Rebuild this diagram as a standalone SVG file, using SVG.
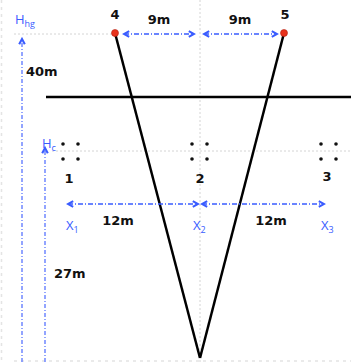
<svg xmlns="http://www.w3.org/2000/svg" width="351" height="362" viewBox="0 0 351 362">
<style>
.guide{stroke:#d4d4d4;stroke-width:1;stroke-dasharray:2 2;fill:none}
.faint{stroke:#e4e4e4;stroke-width:1.5;stroke-dasharray:3 4;fill:none}
.dim{stroke:#3a5cff;stroke-width:1.3;stroke-dasharray:5 2 1 2;fill:none}
.vdim{stroke:#6f86ff;stroke-width:1.5;stroke-dasharray:4 2 1 2;fill:none}
.beam{stroke:#000;stroke-width:2.5;fill:none}
.lbl{font-family:"DejaVu Sans",Verdana,sans-serif;font-weight:bold;font-size:13px;fill:#111}
.blue{font-family:"Open Sans","Liberation Sans",Arial,sans-serif;font-size:13px;fill:#3a5cff}
.sub{font-size:9px}
.dot{fill:#111}
</style>
<defs>
<marker id="ah" viewBox="0 0 10 10" refX="8" refY="5" markerWidth="8" markerHeight="8" markerUnits="userSpaceOnUse" orient="auto-start-reverse">
<path d="M1.5,1.5 L8,5 L1.5,8.5" fill="none" stroke="#3a5cff" stroke-width="2.6"/>
</marker>
</defs>
<rect width="351" height="362" fill="#fff"/>
<g id="guides">
<line class="faint" x1="1.5" y1="0" x2="1.5" y2="362"/>
<line class="faint" x1="14" y1="361" x2="351" y2="361"/>
<line class="guide" x1="14" y1="34" x2="113" y2="34"/>
<line class="guide" x1="200" y1="0" x2="200" y2="362"/>
<line class="guide" x1="52" y1="151" x2="351" y2="151"/>
</g>
<g id="connectors">
<line class="beam" x1="46" y1="97" x2="351" y2="97"/>
<line class="beam" x1="115" y1="33" x2="200" y2="358"/>
<line class="beam" x1="284" y1="33" x2="200" y2="358"/>
<line class="vdim" x1="22" y1="362" x2="22" y2="39" marker-end="url(#ah)"/>
<line class="vdim" x1="45" y1="362" x2="45" y2="148" marker-end="url(#ah)"/>
<line class="dim" x1="124" y1="34" x2="194" y2="34" marker-start="url(#ah)" marker-end="url(#ah)"/>
<line class="dim" x1="204" y1="34" x2="277" y2="34" marker-start="url(#ah)" marker-end="url(#ah)"/>
<line class="dim" x1="68" y1="204" x2="198" y2="204" marker-start="url(#ah)" marker-end="url(#ah)"/>
<line class="dim" x1="202" y1="204" x2="324" y2="204" marker-start="url(#ah)" marker-end="url(#ah)"/>
</g>
<g id="node4">
<circle cx="115" cy="33" r="3.5" fill="#e8321c" stroke="#b02010" stroke-width="0.6"/>
<text class="lbl" x="115" y="19" text-anchor="middle">4</text>
</g>
<g id="node5">
<circle cx="284" cy="33" r="3.5" fill="#e8321c" stroke="#b02010" stroke-width="0.6"/>
<text class="lbl" x="285" y="19" text-anchor="middle">5</text>
</g>
<g id="node1">
<circle class="dot" cx="63" cy="144" r="1.8"/><circle class="dot" cx="78" cy="144" r="1.8"/>
<circle class="dot" cx="63" cy="159" r="1.8"/><circle class="dot" cx="78" cy="159" r="1.8"/>
<text class="lbl" x="69" y="183" text-anchor="middle">1</text>
</g>
<g id="node2">
<circle class="dot" cx="192" cy="144" r="1.8"/><circle class="dot" cx="207" cy="144" r="1.8"/>
<circle class="dot" cx="192" cy="159" r="1.8"/><circle class="dot" cx="207" cy="159" r="1.8"/>
<text class="lbl" x="200" y="183" text-anchor="middle">2</text>
</g>
<g id="node3">
<circle class="dot" cx="321" cy="144" r="1.8"/><circle class="dot" cx="336" cy="144" r="1.8"/>
<circle class="dot" cx="321" cy="159" r="1.8"/><circle class="dot" cx="336" cy="159" r="1.8"/>
<text class="lbl" x="327" y="181" text-anchor="middle">3</text>
</g>
<g id="labels">
<text class="lbl" x="159" y="24" text-anchor="middle">9m</text>
<text class="lbl" x="240" y="24" text-anchor="middle">9m</text>
<text class="lbl" x="26" y="76">40m</text>
<text class="lbl" x="118" y="225" text-anchor="middle">12m</text>
<text class="lbl" x="271" y="225" text-anchor="middle">12m</text>
<text class="lbl" x="54" y="278">27m</text>
<text class="blue" x="15" y="24">H<tspan class="sub" dy="3">hg</tspan></text>
<text class="blue" x="42" y="148">H<tspan class="sub" dy="3">c</tspan></text>
<text class="blue" x="66" y="230">X<tspan class="sub" dy="3">1</tspan></text>
<text class="blue" x="193" y="230">X<tspan class="sub" dy="3">2</tspan></text>
<text class="blue" x="321" y="230">X<tspan class="sub" dy="3">3</tspan></text>
</g>
</svg>
